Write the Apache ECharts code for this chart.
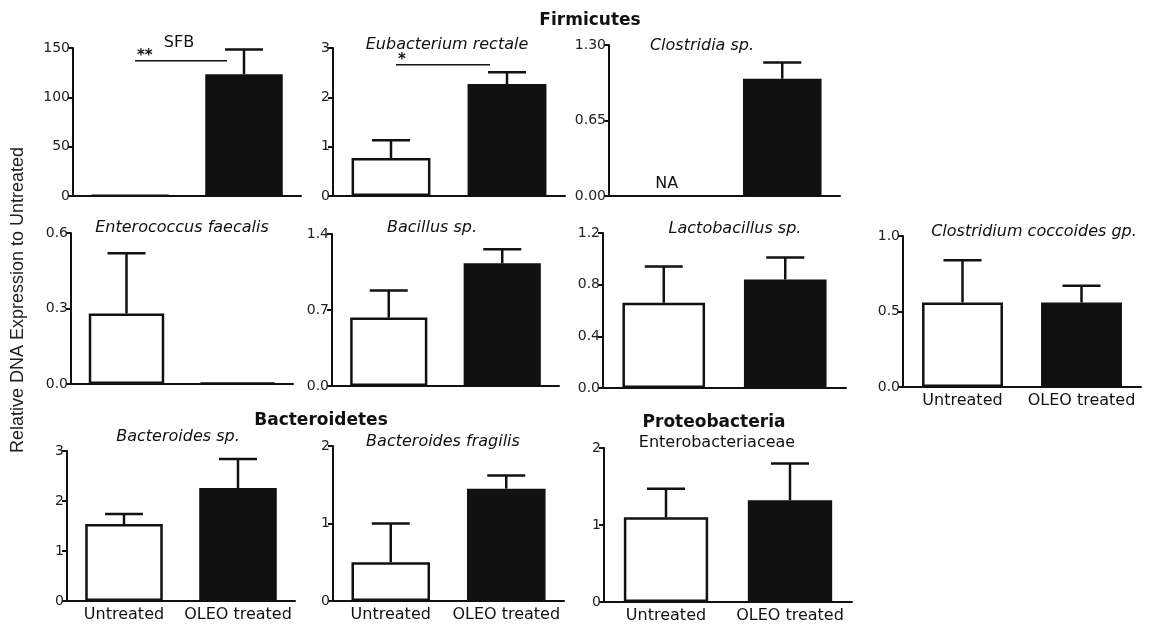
<!DOCTYPE html>
<html>
<head>
<meta charset="utf-8">
<script src="https://cdn.jsdelivr.net/npm/echarts@6/dist/echarts.min.js"></script>
<style>
  html, body { margin: 0; padding: 0; background: #fff; }
  #chart { width: 1161px; height: 626px; }
</style>
</head>
<body>
<div id="chart"></div>
<script>
// categories on every panel
const groups = ['Untreated', 'OLEO treated'];
// panel titles
const panelNames = ['SFB', 'Eubacterium rectale', 'Clostridia sp.', 'Enterococcus faecalis', 'Bacillus sp.',
  'Lactobacillus sp.', 'Clostridium coccoides gp.', 'Bacteroides sp.', 'Bacteroides fragilis', 'Enterobacteriaceae'];
const italicTitle = [false, true, true, true, true, true, true, true, true, false];
// means and upper error (SEM)
const untreatedMean = [0.5, 0.77, null, 0.28, 0.63, 0.66, 0.56, 1.54, 0.5, 1.1];
const untreatedSem  = [0, 0.36, null, 0.24, 0.25, 0.28, 0.28, 0.2, 0.5, 0.37];
const oleoMean = [123.5, 2.27, 1.01, 0.005, 1.13, 0.84, 0.56, 2.26, 1.45, 1.32];
const oleoSem  = [25, 0.24, 0.14, 0, 0.13, 0.17, 0.11, 0.58, 0.17, 0.48];
// y axes
const yMax = [150, 3, 1.3, 0.6, 1.4, 1.2, 1.0, 3, 2, 2];
const yStep = [50, 1, 0.65, 0.3, 0.7, 0.4, 0.5, 1, 1, 1];
const yDecimals = [0, 0, 2, 1, 1, 1, 1, 0, 0, 0];
// significance bars
const sigLevel = [137, 2.66, null, null, null, null, null, null, null, null];
const sigStars = ['**', '*', '', '', '', '', '', '', '', ''];
// phylum headings
const phyla = ['Firmicutes', 'Bacteroidetes', 'Proteobacteria'];
const yTitle = 'Relative DNA Expression to Untreated';

// panel boxes in px (left, top, right, bottom) and title centre
const layout = [
  { l: 73,  t: 48,  r: 301,  b: 196, tx: 179,  ty: 43 },
  { l: 333, t: 48,  r: 565,  b: 196, tx: 447,  ty: 45 },
  { l: 609, t: 45,  r: 840,  b: 196, tx: 702,  ty: 46 },
  { l: 71,  t: 233, r: 293,  b: 384, tx: 182,  ty: 228 },
  { l: 332, t: 234, r: 559,  b: 386, tx: 432,  ty: 228 },
  { l: 603, t: 233, r: 846,  b: 388, tx: 735,  ty: 229 },
  { l: 903, t: 236, r: 1141, b: 387, tx: 1034, ty: 232 },
  { l: 67,  t: 451, r: 295,  b: 601, tx: 178,  ty: 437 },
  { l: 333, t: 446, r: 564,  b: 601, tx: 443,  ty: 442 },
  { l: 604, t: 448, r: 852,  b: 602, tx: 717,  ty: 443 }
];
const phylaPos = [[590, 21], [321, 421], [714, 423]];
const showXLabels = [false, false, false, false, false, false, true, true, true, true];

const FONT = 'DejaVu Sans';
const INK = '#111';

const myChart = echarts.init(document.getElementById('chart'));

const grids = [], xAxes = [], yAxes = [], series = [], graphics = [];

layout.forEach((p, i) => {
  grids.push({ left: p.l, top: p.t, width: p.r - p.l, height: p.b - p.t, containLabel: false });
  xAxes.push({
    type: 'category', gridIndex: i, data: groups,
    axisLine: { lineStyle: { color: INK, width: 2 } },
    axisTick: { show: false },
    axisLabel: { show: showXLabels[i], color: INK, fontFamily: FONT, fontSize: 16, margin: 6, interval: 0 }
  });
  yAxes.push({
    type: 'value', gridIndex: i, min: 0, max: yMax[i], interval: yStep[i],
    axisLine: { show: true, lineStyle: { color: INK, width: 2 } },
    axisTick: { show: true, length: 5, lineStyle: { color: INK, width: 2 } },
    splitLine: { show: false },
    axisLabel: { color: '#222', fontFamily: FONT, fontSize: 14, margin: 3,
      formatter: v => v.toFixed(yDecimals[i]) }
  });

  const u = untreatedMean[i];
  const barData = [
    u === null
      ? { value: 0, itemStyle: { color: 'transparent', borderWidth: 0 },
          label: { show: true, position: 'top', distance: 4, formatter: 'NA', color: INK, fontFamily: FONT, fontSize: 16 } }
      : { value: u, itemStyle: { color: '#fff', borderColor: INK, borderWidth: 2.5 } },
    { value: oleoMean[i], itemStyle: { color: INK, borderColor: INK, borderWidth: 2 } }
  ];
  series.push({
    type: 'bar', xAxisIndex: i, yAxisIndex: i, barWidth: '68%', data: barData,
    animation: false, silent: true
  });

  const errData = [];
  if (u !== null && untreatedSem[i] > 0) errData.push([0, u, untreatedSem[i]]);
  if (oleoSem[i] > 0) errData.push([1, oleoMean[i], oleoSem[i]]);
  series.push({
    type: 'custom', xAxisIndex: i, yAxisIndex: i, z: 5, animation: false, silent: true,
    data: errData,
    renderItem: (params, api) => {
      const x = api.value(0), m = api.value(1), s = api.value(2);
      const a = api.coord([x, m]);
      const b = api.coord([x, m + s]);
      const st = { stroke: INK, lineWidth: 2.5 };
      return { type: 'group', children: [
        { type: 'line', shape: { x1: a[0], y1: a[1], x2: b[0], y2: b[1] }, style: st },
        { type: 'line', shape: { x1: b[0] - 19, y1: b[1], x2: b[0] + 19, y2: b[1] }, style: st }
      ] };
    }
  });

  if (sigLevel[i] !== null) {
    series.push({
      type: 'custom', xAxisIndex: i, yAxisIndex: i, z: 5, animation: false, silent: true,
      data: [[0, 1, sigLevel[i]]],
      renderItem: (params, api) => {
        const a = api.coord([api.value(0), api.value(2)]);
        const b = api.coord([api.value(1), api.value(2)]);
        return { type: 'group', children: [
          { type: 'line', shape: { x1: a[0] + 5, y1: a[1], x2: b[0] - 17, y2: b[1] },
            style: { stroke: INK, lineWidth: 1.5 } },
          { type: 'text', x: a[0] + 7, y: a[1] + 3,
            style: { text: sigStars[i], fill: INK, font: 'bold 15px ' + FONT, textAlign: 'left', textVerticalAlign: 'bottom' } }
        ] };
      }
    });
  }

  graphics.push({
    type: 'text', x: p.tx, y: p.ty, silent: true,
    style: { text: panelNames[i], fill: INK, textAlign: 'center', textVerticalAlign: 'middle',
      font: (italicTitle[i] ? 'italic ' : '') + '16px ' + FONT }
  });
});

phyla.forEach((name, k) => {
  graphics.push({
    type: 'text', x: phylaPos[k][0], y: phylaPos[k][1], silent: true,
    style: { text: name, fill: INK, textAlign: 'center', textVerticalAlign: 'middle', font: 'bold 17px ' + FONT }
  });
});

graphics.push({
  type: 'text', x: 18, y: 300, rotation: Math.PI / 2, silent: true,
  style: { text: yTitle, fill: '#222', textAlign: 'center', textVerticalAlign: 'middle', font: '18px "Liberation Sans", Arial' }
});

const option = {
  backgroundColor: '#fff',
  animation: false,
  grid: grids,
  xAxis: xAxes,
  yAxis: yAxes,
  series: series,
  graphic: graphics
};

option && myChart.setOption(option);
</script>
</body>
</html>
